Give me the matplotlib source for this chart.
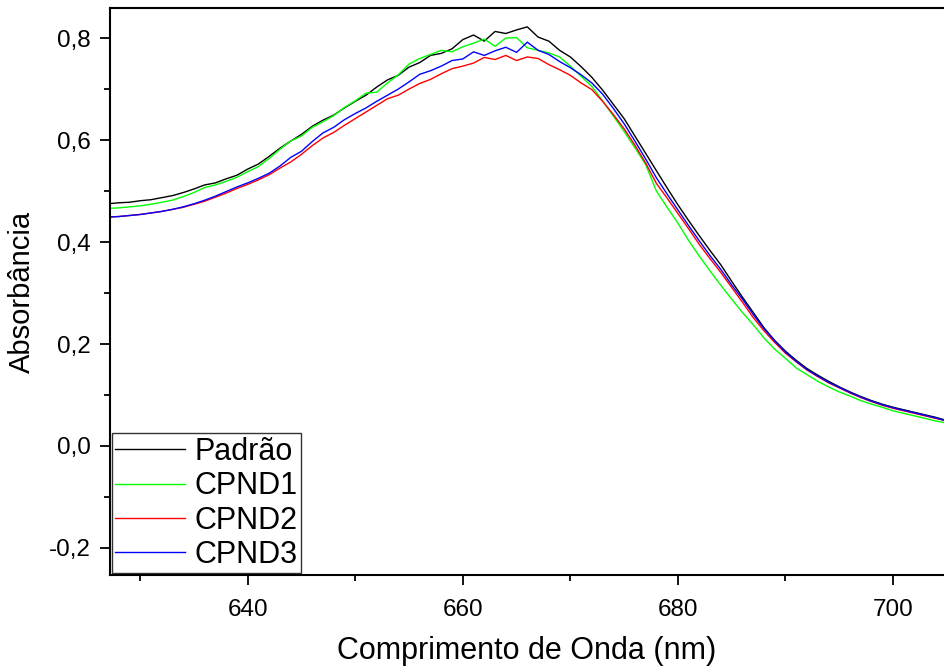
import numpy as np
import matplotlib
matplotlib.use("Agg")
import matplotlib.pyplot as plt
from matplotlib.ticker import MultipleLocator, FuncFormatter

plt.rcParams['font.family'] = ['Liberation Sans', 'DejaVu Sans']

wavelength = np.arange(627, 706)

padrao = [0.475, 0.477, 0.478, 0.481, 0.483, 0.487, 0.491, 0.497, 0.504, 0.512,
          0.516, 0.524, 0.531, 0.543, 0.553, 0.568, 0.584, 0.598, 0.611, 0.627,
          0.639, 0.649, 0.663, 0.676, 0.688, 0.704, 0.718, 0.727, 0.743, 0.752,
          0.766, 0.770, 0.779, 0.797, 0.806, 0.794, 0.813, 0.809, 0.816, 0.822,
          0.802, 0.794, 0.776, 0.763, 0.744, 0.723, 0.698, 0.670, 0.642, 0.608,
          0.574, 0.540, 0.506, 0.473, 0.442, 0.412, 0.383, 0.355, 0.323, 0.292,
          0.262, 0.232, 0.207, 0.186, 0.168, 0.152, 0.139, 0.127, 0.116, 0.106,
          0.097, 0.089, 0.082, 0.076, 0.071, 0.066, 0.061, 0.056, 0.050]

cpnd1 = [0.466, 0.467, 0.469, 0.471, 0.474, 0.478, 0.482, 0.489, 0.497, 0.507,
         0.512, 0.519, 0.527, 0.538, 0.548, 0.564, 0.582, 0.598, 0.608, 0.625,
         0.636, 0.648, 0.664, 0.677, 0.692, 0.694, 0.712, 0.728, 0.749, 0.760,
         0.768, 0.776, 0.773, 0.783, 0.790, 0.798, 0.784, 0.800, 0.801, 0.781,
         0.776, 0.771, 0.763, 0.745, 0.725, 0.705, 0.677, 0.647, 0.617, 0.585,
         0.552, 0.500, 0.468, 0.437, 0.403, 0.372, 0.343, 0.315, 0.288, 0.262,
         0.238, 0.212, 0.190, 0.172, 0.153, 0.140, 0.127, 0.116, 0.106, 0.098,
         0.089, 0.082, 0.076, 0.069, 0.064, 0.059, 0.054, 0.049, 0.045]

cpnd2 = [0.449, 0.450, 0.452, 0.454, 0.457, 0.460, 0.464, 0.468, 0.474, 0.480,
         0.488, 0.496, 0.505, 0.513, 0.522, 0.532, 0.545, 0.557, 0.572, 0.589,
         0.604, 0.615, 0.629, 0.642, 0.655, 0.668, 0.681, 0.688, 0.700, 0.711,
         0.719, 0.730, 0.740, 0.745, 0.751, 0.762, 0.758, 0.766, 0.756, 0.763,
         0.760, 0.748, 0.738, 0.727, 0.712, 0.699, 0.676, 0.650, 0.622, 0.590,
         0.555, 0.515, 0.486, 0.456, 0.426, 0.395, 0.367, 0.340, 0.311, 0.282,
         0.252, 0.226, 0.203, 0.182, 0.165, 0.149, 0.136, 0.124, 0.114, 0.104,
         0.095, 0.087, 0.080, 0.074, 0.069, 0.064, 0.059, 0.054, 0.049]

cpnd3 = [0.449, 0.450, 0.452, 0.454, 0.457, 0.460, 0.464, 0.469, 0.475, 0.482,
         0.490, 0.499, 0.508, 0.516, 0.525, 0.535, 0.549, 0.566, 0.578, 0.597,
         0.614, 0.625, 0.640, 0.652, 0.663, 0.676, 0.688, 0.700, 0.714, 0.729,
         0.736, 0.745, 0.756, 0.759, 0.773, 0.766, 0.775, 0.782, 0.772, 0.792,
         0.776, 0.768, 0.754, 0.742, 0.728, 0.712, 0.690, 0.662, 0.632, 0.598,
         0.563, 0.526, 0.494, 0.463, 0.432, 0.402, 0.373, 0.346, 0.316, 0.288,
         0.258, 0.230, 0.206, 0.184, 0.166, 0.150, 0.137, 0.125, 0.115, 0.105,
         0.096, 0.088, 0.081, 0.075, 0.070, 0.065, 0.060, 0.055, 0.049]

labels = ['Padrão', 'CPND1', 'CPND2', 'CPND3']
colors = ['#000000', '#00FF00', '#FF0000', '#0000FF']
series = [padrao, cpnd1, cpnd2, cpnd3]

fig = plt.figure(figsize=(9.44, 6.66), dpi=100)
ax = fig.add_axes([110 / 944, 91 / 666, 1 - 110 / 944, 567 / 666])

for y, lab, c in zip(series, labels, colors):
    ax.plot(wavelength, y, color=c, lw=1.0, label=lab)

ax.set_xlim(627.2, 704.74)
ax.set_ylim(-0.253, 0.859)

ax.xaxis.set_major_locator(MultipleLocator(20))
ax.xaxis.set_minor_locator(MultipleLocator(10))
ax.yaxis.set_major_locator(MultipleLocator(0.2))
ax.yaxis.set_minor_locator(MultipleLocator(0.1))
ax.yaxis.set_major_formatter(FuncFormatter(lambda v, p: f"{v:.1f}".replace('.', ',').replace('-0,0', '0,0')))

ax.spines['right'].set_visible(False)
for s in ['left', 'bottom', 'top']:
    ax.spines[s].set_linewidth(1.5)

ax.tick_params(which='major', direction='out', length=7, width=1.3, labelsize=17.5, pad=7)
ax.tick_params(axis='x', which='major', pad=10)
ax.tick_params(which='minor', direction='out', length=4, width=1.3)
ax.tick_params(top=False, right=False)

ax.set_xlabel('Comprimento de Onda (nm)', fontsize=22, labelpad=11)
ax.set_ylabel('Absorbância', fontsize=21, labelpad=9)

leg = ax.legend(loc='lower left', bbox_to_anchor=(0.0, 0.0), borderaxespad=0.05,
                fontsize=22, frameon=True, fancybox=False, edgecolor='black',
                handlelength=2.3, handletextpad=0.3, labelspacing=0.14,
                borderpad=0.12)
leg.get_frame().set_linewidth(1.0)

fig.savefig('out.png', dpi=100)
